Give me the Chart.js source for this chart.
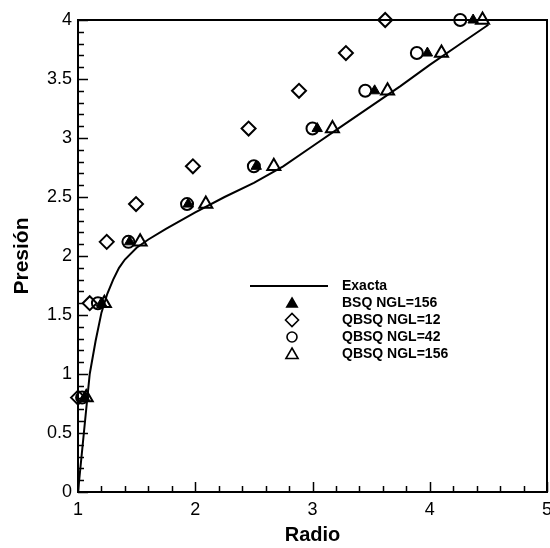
<!DOCTYPE html>
<html>
<head>
<meta charset="utf-8">
<script src="https://cdn.jsdelivr.net/npm/chart.js@4.4.1/dist/chart.umd.min.js"></script>
<style>
html, body { margin: 0; padding: 0; background: #ffffff; }
canvas { display: block; }
</style>
</head>
<body>
<canvas id="chart" width="550" height="548"></canvas>
<script>
// Exact solution curve: pressure as a function of radius
const exactRadius   = [1.00, 1.05, 1.10, 1.15, 1.20, 1.25, 1.30, 1.35, 1.40, 1.50, 1.60, 1.75, 2.00, 2.25, 2.50, 2.75, 3.00, 3.25, 3.50, 3.75, 4.00, 4.25, 4.50];
const exactPressure = [0.00, 0.50, 1.00, 1.28, 1.52, 1.68, 1.80, 1.90, 1.97, 2.07, 2.14, 2.23, 2.37, 2.50, 2.62, 2.76, 2.93, 3.10, 3.27, 3.44, 3.62, 3.79, 3.96];

// Pressure load steps shared by the numerical solutions
const pressureSteps = [0.80, 1.60, 2.12, 2.44, 2.76, 3.08, 3.40, 3.72, 4.00];

// Radius reached at each load step
const radiusBSQ156  = [1.055, 1.20, 1.44, 1.94, 2.52, 3.04, 3.53, 3.98, 4.37];
const radiusQBSQ12  = [1.00, 1.10, 1.245, 1.495, 1.98, 2.455, 2.885, 3.285, 3.62];
const radiusQBSQ42  = [1.035, 1.17, 1.43, 1.93, 2.50, 3.00, 3.45, 3.89, 4.26];
const radiusQBSQ156 = [1.07, 1.225, 1.53, 2.09, 2.67, 3.17, 3.64, 4.10, 4.45];

const seriesNames = ['Exacta', 'BSQ NGL=156', 'QBSQ NGL=12', 'QBSQ NGL=42', 'QBSQ NGL=156'];

// Axis ticks
const xTickValues = [1, 2, 3, 4, 5];
const yTickValues = [0, 0.5, 1, 1.5, 2, 2.5, 3, 3.5, 4];
const xMinorStep = 0.2;
const yMinorStep = 0.1;

const FONT = '"Liberation Sans", Arial, Helvetica, sans-serif';

function toPoints(xs, ys) {
  return xs.map((x, i) => ({ x: x, y: ys[i] }));
}

// Marker shapes used in the legend (same geometry as Chart.js point styles)
function drawSymbol(ctx, style, x, y, r, filled) {
  ctx.beginPath();
  if (style === 'triangle') {
    const hw = r * Math.sqrt(3) / 2;
    ctx.moveTo(x, y - r);
    ctx.lineTo(x + hw, y + r / 2);
    ctx.lineTo(x - hw, y + r / 2);
    ctx.closePath();
  } else if (style === 'rectRot') {
    ctx.moveTo(x - r, y);
    ctx.lineTo(x, y - r);
    ctx.lineTo(x + r, y);
    ctx.lineTo(x, y + r);
    ctx.closePath();
  } else {
    ctx.arc(x, y, r, 0, Math.PI * 2);
  }
  if (filled) { ctx.fillStyle = '#000'; ctx.fill(); }
  ctx.stroke();
}

// Frame around the plot area and inward-pointing tick marks
const framePlugin = {
  id: 'frame',
  beforeDatasetsDraw(chart) {
    const { ctx, chartArea: a, scales } = chart;
    const xs = scales.x, ys = scales.y;
    ctx.save();
    ctx.strokeStyle = '#000';
    ctx.lineWidth = 2;
    ctx.strokeRect(a.left, a.top, a.right - a.left, a.bottom - a.top);

    ctx.lineWidth = 1.5;
    ctx.beginPath();
    // x axis ticks
    for (let v = xs.min; v <= xs.max + 1e-9; v += xMinorStep) {
      const val = Math.round(v * 1000) / 1000;
      const px = Math.round(xs.getPixelForValue(val)) + 0.5;
      const major = xTickValues.some(t => Math.abs(t - val) < 1e-6);
      const len = major ? 10 : 6;
      ctx.moveTo(px, a.bottom);
      ctx.lineTo(px, a.bottom - len);
    }
    // y axis ticks
    for (let v = ys.min; v <= ys.max + 1e-9; v += yMinorStep) {
      const val = Math.round(v * 1000) / 1000;
      const py = Math.round(ys.getPixelForValue(val)) + 0.5;
      const major = yTickValues.some(t => Math.abs(t - val) < 1e-6);
      const len = major ? 10 : 6;
      ctx.moveTo(a.left, py);
      ctx.lineTo(a.left + len, py);
    }
    ctx.stroke();
    ctx.restore();
  }
};

// Legend placed inside the plot area
const legendPlugin = {
  id: 'insideLegend',
  afterDraw(chart) {
    const { ctx, chartArea: a } = chart;
    const x0 = a.left + 172;       // line start
    const x1 = a.left + 250;       // line end
    const xs = a.left + 214;       // symbol centre
    const xt = a.left + 264;       // text start
    const y0 = a.top + 266;
    const dy = 17;
    ctx.save();
    ctx.strokeStyle = '#000';
    ctx.fillStyle = '#000';
    ctx.lineWidth = 2;
    ctx.beginPath();
    ctx.moveTo(x0, y0);
    ctx.lineTo(x1, y0);
    ctx.stroke();
    ctx.lineWidth = 1.6;
    drawSymbol(ctx, 'triangle', xs, y0 + dy + 1, 6, true);
    drawSymbol(ctx, 'rectRot', xs, y0 + 2 * dy, 6.5, false);
    drawSymbol(ctx, 'circle', xs, y0 + 3 * dy, 5, false);
    drawSymbol(ctx, 'triangle', xs, y0 + 4 * dy + 1, 7, false);
    ctx.font = 'bold 14px ' + FONT;
    ctx.textBaseline = 'middle';
    ctx.textAlign = 'left';
    ctx.fillStyle = '#000';
    seriesNames.forEach((name, i) => ctx.fillText(name, xt, y0 + i * dy));
    ctx.restore();
  }
};

const markerCommon = {
  type: 'scatter',
  showLine: false,
  borderColor: '#000',
  clip: false
};

new Chart(document.getElementById('chart'), {
  type: 'scatter',
  data: {
    datasets: [
      Object.assign({}, markerCommon, {
        label: seriesNames[1],
        data: toPoints(radiusBSQ156, pressureSteps),
        pointStyle: 'triangle',
        pointRadius: 6,
        pointBorderWidth: 1,
        backgroundColor: '#000',
        order: 0
      }),
      Object.assign({}, markerCommon, {
        label: seriesNames[4],
        data: toPoints(radiusQBSQ156, pressureSteps),
        pointStyle: 'triangle',
        pointRadius: 7.5,
        pointBorderWidth: 2,
        backgroundColor: 'rgba(0,0,0,0)',
        order: 1
      }),
      Object.assign({}, markerCommon, {
        label: seriesNames[3],
        data: toPoints(radiusQBSQ42, pressureSteps),
        pointStyle: 'circle',
        pointRadius: 6,
        pointBorderWidth: 2,
        backgroundColor: 'rgba(0,0,0,0)',
        order: 2
      }),
      Object.assign({}, markerCommon, {
        label: seriesNames[2],
        data: toPoints(radiusQBSQ12, pressureSteps),
        pointStyle: 'rectRot',
        pointRadius: 7,
        pointBorderWidth: 2,
        backgroundColor: 'rgba(0,0,0,0)',
        order: 3
      }),
      {
        type: 'line',
        label: seriesNames[0],
        data: toPoints(exactRadius, exactPressure),
        borderColor: '#000',
        borderWidth: 2,
        pointRadius: 0,
        tension: 0,
        fill: false,
        order: 4
      }
    ]
  },
  options: {
    responsive: false,
    devicePixelRatio: 1,
    animation: false,
    layout: { autoPadding: false, padding: { left: 0, right: 3, top: 20, bottom: 0 } },
    plugins: {
      legend: { display: false },
      tooltip: { enabled: false }
    },
    scales: {
      x: {
        type: 'linear',
        min: 1,
        max: 5,
        afterBuildTicks(s) { s.ticks = xTickValues.map(v => ({ value: v })); },
        afterFit(s) { s.height = 56; s.paddingLeft = 0; s.paddingRight = 0; },
        grid: { display: false, drawTicks: false },
        border: { display: false },
        ticks: {
          color: '#000',
          padding: 7,
          maxRotation: 0,
          autoSkip: false,
          font: { family: FONT, size: 18 },
          callback: v => String(v)
        },
        title: {
          display: true,
          text: 'Radio',
          color: '#000',
          font: { family: FONT, size: 20, weight: 'bold' },
          padding: { top: 0, bottom: 1 }
        }
      },
      y: {
        type: 'linear',
        min: 0,
        max: 4,
        afterBuildTicks(s) { s.ticks = yTickValues.map(v => ({ value: v })); },
        afterFit(s) { s.width = 78; s.paddingTop = 0; s.paddingBottom = 0; },
        grid: { display: false, drawTicks: false },
        border: { display: false },
        ticks: {
          color: '#000',
          padding: 6,
          autoSkip: false,
          font: { family: FONT, size: 18 },
          callback: v => String(v)
        },
        title: {
          display: true,
          text: 'Presión',
          color: '#000',
          font: { family: FONT, size: 21, weight: 'bold' },
          padding: { top: 10, bottom: 0 }
        }
      }
    }
  },
  plugins: [framePlugin, legendPlugin]
});
</script>
</body>
</html>
